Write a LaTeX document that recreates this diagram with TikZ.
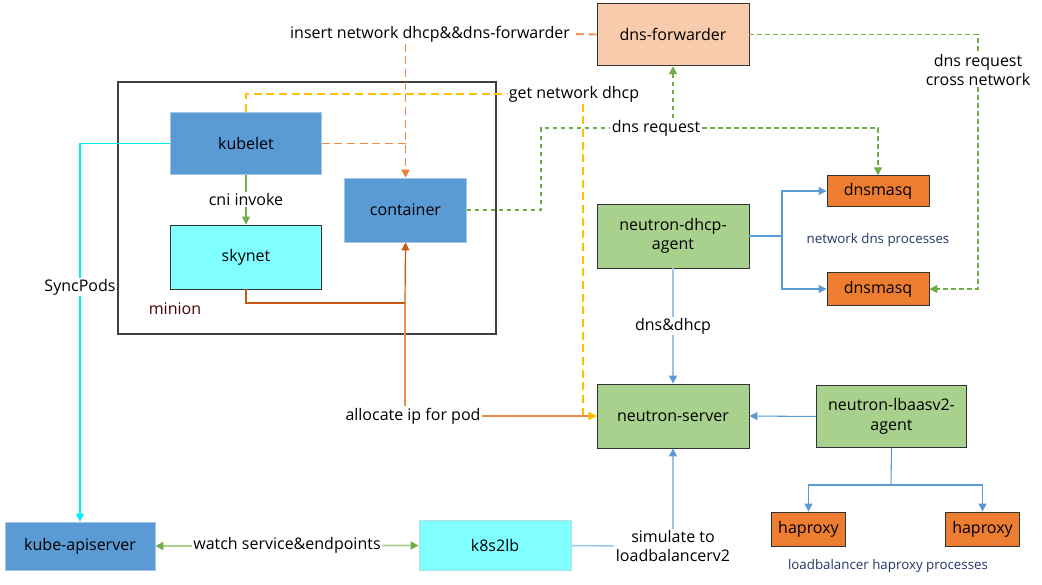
\documentclass[tikz,border=0pt]{standalone}
\usepackage{fontspec}
\setmainfont{Open Sans}
\usetikzlibrary{arrows.meta}
\definecolor{boxblue}{HTML}{5B9BD5}
\definecolor{boxcyan}{HTML}{7FFFFF}
\definecolor{boxgreen}{HTML}{A9D18E}
\definecolor{boxpeach}{HTML}{F8CBAD}
\definecolor{boxorange}{HTML}{ED7D31}
\definecolor{lineorange}{HTML}{F08C48}
\definecolor{darkorange}{HTML}{C55A11}
\definecolor{lineyellow}{HTML}{FFC000}
\definecolor{linegreen}{HTML}{70AD47}
\definecolor{lightblue}{HTML}{9DC3E6}
\definecolor{linecyan}{HTML}{00F0F0}
\definecolor{navytext}{HTML}{1F3864}
\begin{document}
\begin{tikzpicture}[x=0.75pt,y=-0.75pt,font=\fontsize{12}{14.5}\selectfont,
    >={Triangle[length=6pt,width=6pt]}]
\tikzset{every node/.style={inner sep=1pt}}
\tikzset{box/.style={shape=rectangle,align=center,draw=black!80,line width=0.6pt},
         bluebox/.style={box,fill=boxblue,draw=boxblue!55!white},
         cyanbox/.style={box,fill=boxcyan},
         greenbox/.style={box,fill=boxgreen,minimum width=114pt,minimum height=48pt},
         lbl/.style={fill=white,text=black,align=center},
         small/.style={font=\fontsize{10}{12}\selectfont,text=navytext}}
\useasboundingbox (0,0) rectangle (1042,585);
%\fill[gray!10] (0,0) rectangle (1042,585);

% minion frame
\draw[black!75,line width=0.8pt] (118,82) rectangle (496,334);
\node (minion) at (175,309) [text=black!60!red!70!black] {minion};

\node[bluebox,minimum width=113pt,minimum height=47pt] (kubelet) at (246,143.5) {kubelet};
\node[bluebox,minimum width=91pt,minimum height=48pt] (container) at (405.5,210) {container};
\node[cyanbox,minimum width=113pt,minimum height=48pt] (skynet) at (246,257) {skynet};
\node[box,fill=boxpeach,minimum width=114pt,minimum height=47pt] (dnsfwd) at (673,34.5) {dns-forwarder};
\node[greenbox] (dhcpagent) at (673,236) {neutron-dhcp-\\agent};
\node[greenbox] (nserver) at (673,416) {neutron-server};
\node[greenbox,minimum width=113pt,minimum height=47pt] (lbaas) at (891.5,416.5) {neutron-lbaasv2-\\agent};
\node[box,fill=boxorange,minimum width=76.5pt,minimum height=23pt] (dnsmasqA) at (878,191) {dnsmasq};
\node[box,fill=boxorange,minimum width=76.5pt,minimum height=25pt] (dnsmasqB) at (878,289) {dnsmasq};
\node[box,fill=boxorange,minimum width=56pt,minimum height=25.5pt] (haproxyA) at (808.5,529) {haproxy};
\node[box,fill=boxorange,minimum width=56pt,minimum height=25.5pt] (haproxyB) at (982.5,529) {haproxy};
\node[bluebox,minimum width=112.5pt,minimum height=36pt] (apiserver) at (80,546) {kube-apiserver};
\node[cyanbox,draw=boxcyan!60!gray!60,minimum width=114pt,minimum height=37pt] (k8s2lb) at (495,545.5) {k8s2lb};

\node[small] (dnsproc) at (878,240) {network dns processes};
\node[small] (lbproc) at (888,566) {loadbalancer haproxy processes};

% labels sitting on the connectors
\node[lbl] (insert) at (430,34) {insert network dhcp\&\&dns-forwarder};
\node[lbl] (getdhcp) at (574,94) {get network dhcp};
\node[lbl] (dnsreq) at (656,128) {dns request};
\node[lbl] (crossnet) at (978,70) {dns request\\cross network};
\node[lbl] (allocate) at (413,416) {allocate ip for pod};
\node[lbl] (simulate) at (673,546) {simulate to\\loadbalancerv2};

\coordinate (gturn) at (541,128);
\coordinate (ydrop) at (583,108);
\coordinate (oturn) at (405,303);
\coordinate (dsplit) at (782,236);
\coordinate (lsplit) at (891,485);

% kubelet to apiserver
\draw[linecyan,line width=1.1pt,->] (kubelet.west) -| (apiserver.north);
\node[lbl] (syncpods) at (80,287) {SyncPods};
\draw[linegreen,line width=0.8pt,->] (kubelet.south) -- (skynet.north) node[lbl,midway] {cni invoke};

% dhcp & dns-forwarder insert
\draw[lineorange,line width=1.4pt,dash pattern=on 6pt off 3.5pt] (dnsfwd.west) -- (insert.east);
\draw[lineorange,line width=1.4pt,dash pattern=on 6pt off 3.5pt] (kubelet.east) -- (kubelet.east -| container.north);
\draw[lineorange,line width=1.4pt,dash pattern=on 6pt off 3.5pt,-{Triangle[length=6pt,width=6pt,color=boxorange]}]
    (container.north |- insert.south) -- (container.north);

% get network dhcp
\draw[lineyellow,line width=1.4pt,dash pattern=on 6pt off 3.5pt] (kubelet.north) |- (getdhcp.west);
\draw[lineyellow,line width=1.4pt,dash pattern=on 6pt off 3.5pt,->] (ydrop |- getdhcp.south) |- (nserver.west);

% dns request
\draw[linegreen,line width=1pt,dash pattern=on 3.5pt off 2.5pt] (container.east) -| (gturn) -- (dnsreq.west);
\draw[linegreen,line width=1pt,dash pattern=on 3.5pt off 2.5pt,->] (dnsreq.east) -| (dnsmasqA.north);
\draw[linegreen,line width=1pt,dash pattern=on 3.5pt off 2.5pt,->] (dnsfwd.south |- dnsreq.north) -- (dnsfwd.south);
\draw[linegreen,line width=1pt,dash pattern=on 3.5pt off 2.5pt] (dnsfwd.east) -| (crossnet.north);
\draw[linegreen,line width=1pt,dash pattern=on 3.5pt off 2.5pt,->] (crossnet.south) |- (dnsmasqB.east);

% dhcp agent
\draw[boxblue,line width=0.8pt] (dhcpagent.east) -- (dsplit);
\draw[boxblue,line width=0.8pt,->] (dsplit) |- (dnsmasqA.west);
\draw[boxblue,line width=0.8pt,->] (dsplit) |- (dnsmasqB.west);
\draw[lightblue,line width=1.1pt,-{Triangle[length=6pt,width=6pt,color=boxblue]}] (dhcpagent.south) -- (nserver.north)
    node[lbl,midway] (dnsdhcp) {dns\&dhcp};

% lbaas agent
\draw[boxblue,line width=0.8pt,->] (lbaas.west) -- (nserver.east);
\draw[boxblue,line width=0.8pt] (lbaas.south) -- (lsplit);
\draw[boxblue,line width=0.8pt,->] (lsplit) -| (haproxyA.north);
\draw[boxblue,line width=0.8pt,->] (lsplit) -| (haproxyB.north);

% k8s2lb
\draw[lightblue,line width=1.1pt] (k8s2lb.east) -- (simulate.west);
\draw[lightblue,line width=1.1pt,-{Triangle[length=6pt,width=6pt,color=boxblue]}] (simulate.north) -- (nserver.south);
\draw[boxgreen,line width=1.3pt,{Triangle[length=6pt,width=6pt,color=linegreen]}-{Triangle[length=6pt,width=6pt,color=linegreen]}]
    (apiserver.east) -- (k8s2lb.west) node[lbl,midway] (watch) {watch service\&endpoints};

% allocate ip
\draw[lineorange,line width=0.9pt] (allocate.north -| oturn) -- (oturn);
\draw[darkorange,line width=0.9pt] (skynet.south) |- (oturn);
\draw[darkorange,line width=0.9pt,->] (oturn) -- (container.south);
\draw[lineorange,line width=0.9pt,-{Triangle[length=6pt,width=6pt,color=lineyellow]}] (allocate.east) -- (nserver.west);
\end{tikzpicture}
\end{document}
